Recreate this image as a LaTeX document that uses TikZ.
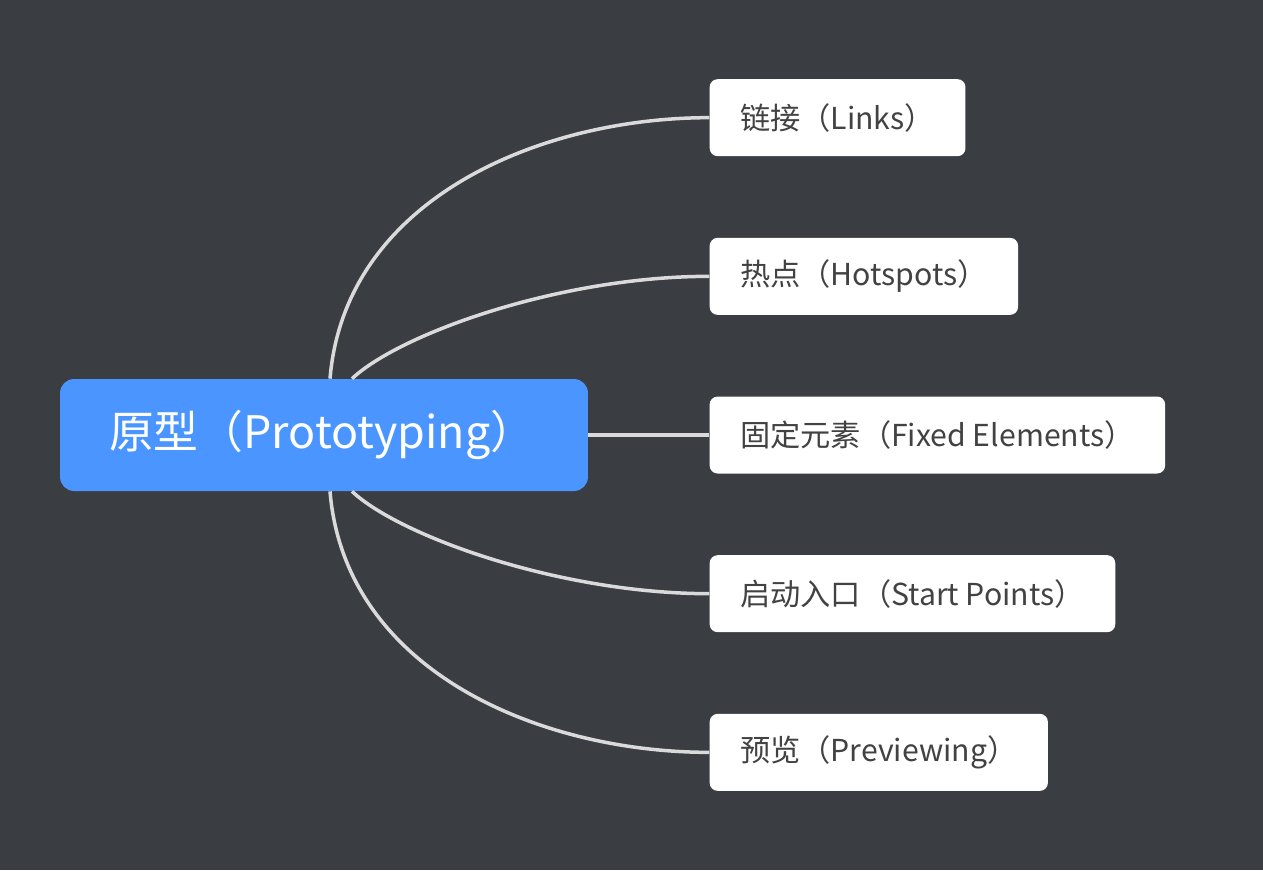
\documentclass[tikz,border=0pt]{standalone}
\usepackage{fontspec}
\setmainfont{Noto Sans CJK SC}
\usetikzlibrary{positioning}
\definecolor{canvas}{HTML}{3A3D42}
\definecolor{rootblue}{HTML}{4A95FF}
\definecolor{leaftext}{HTML}{424242}
\definecolor{branchgray}{HTML}{DADADA}
\tikzset{
    root/.style={rectangle,rounded corners=0.28cm,fill=rootblue,text=white,font=\fontsize{25.5}{30}\selectfont,
        minimum width=10.56cm,minimum height=2.24cm,inner xsep=0.98cm,text width=8.6cm,align=left},
    leaf/.style={rectangle,rounded corners=0.16cm,fill=white,text=leaftext,font=\fontsize{17.2}{21}\selectfont,
        minimum height=1.54cm,inner xsep=0.61cm},
    branch/.style={-,draw=branchgray,line width=0.07cm}
}

\begin{document}
\begin{tikzpicture}[x=0.02cm,y=-0.02cm]

                \fill[canvas] (0,0) rectangle (1263,870);
                \useasboundingbox (0,0) rectangle (1263,870);

                \node[root] (root) at (324,435) {原型（Prototyping）};

                \node[leaf] (leaf fixed)    [right=2.42cm of root]                                 {固定元素（Fixed Elements）}
                    edge[branch] (root);
                \node[leaf] (leaf hotspots) [above=1.62cm of leaf fixed.north west, anchor=south west]    {热点（Hotspots）};
                \node[leaf] (leaf links)    [above=1.62cm of leaf hotspots.north west, anchor=south west] {链接（Links）};
                \node[leaf] (leaf start)    [below=1.62cm of leaf fixed.south west, anchor=north west]    {启动入口（Start Points）};
                \node[leaf] (leaf preview)  [below=1.62cm of leaf start.south west, anchor=north west]    {预览（Previewing）};

                \draw[branch] ([xshift=0.12cm]root.north) .. controls +(15,-180) and +(-169,0) .. (leaf links.west);
                \draw[branch] ([xshift=0.56cm]root.north) .. controls +(48,-45) and +(-149,0) .. (leaf hotspots.west);
                \draw[branch] ([xshift=0.56cm]root.south) .. controls +(48,45) and +(-149,0) .. (leaf start.west);
                \draw[branch] ([xshift=0.12cm]root.south) .. controls +(15,180) and +(-169,0) .. (leaf preview.west);

\end{tikzpicture}
\end{document}
